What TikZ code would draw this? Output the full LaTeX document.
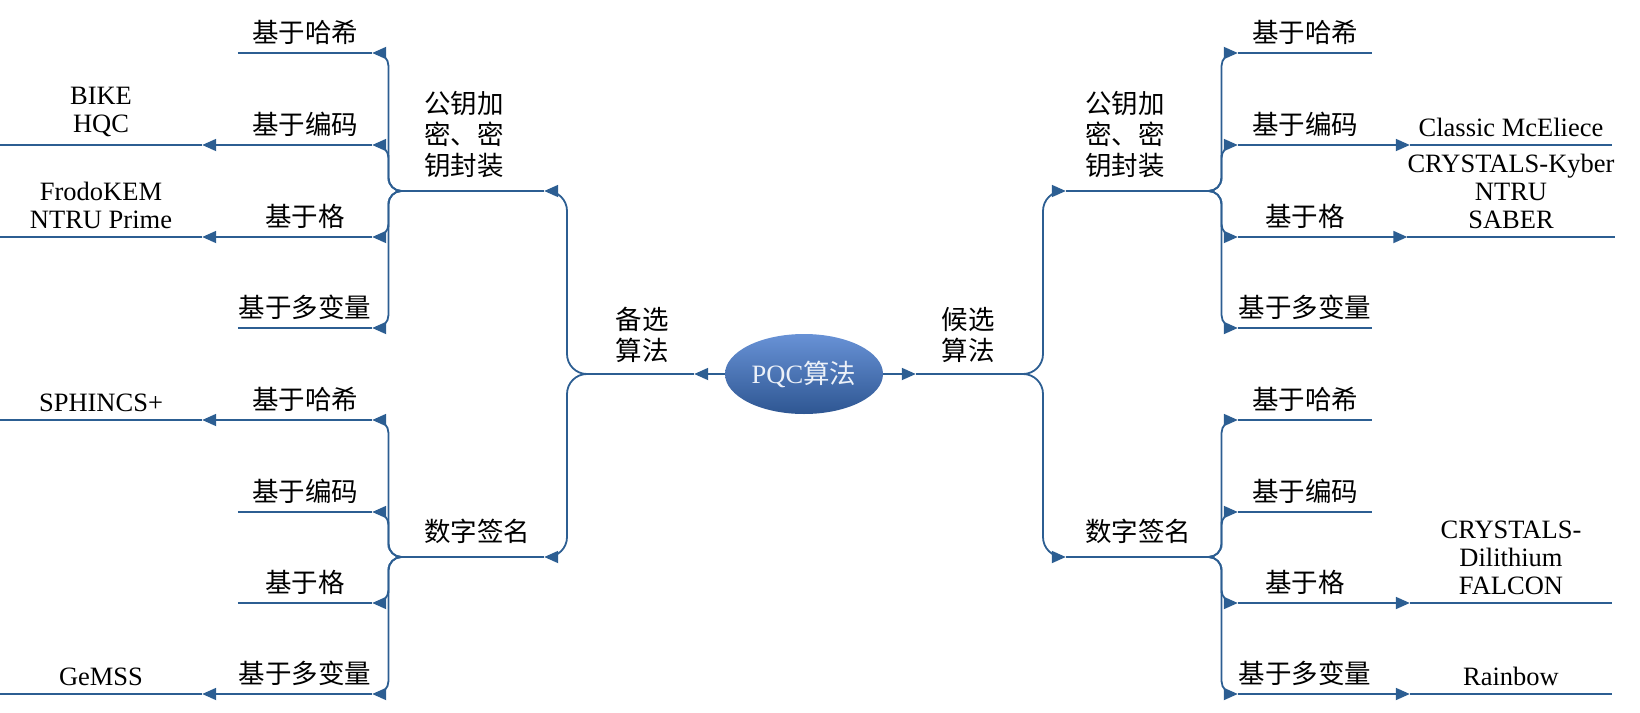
\documentclass[tikz,border=0pt]{standalone}
\usepackage{fontspec}
\setmainfont{Liberation Serif}
\newfontfamily\cjk{Noto Sans CJK SC}
\newcommand{\zh}[1]{{\cjk #1}}
\usepackage{tikz}
\usetikzlibrary{positioning, arrows.meta, calc, shapes.geometric}
\definecolor{branchblue}{RGB}{44,94,146}
\definecolor{ovaltop}{RGB}{104,146,214}
\definecolor{ovalbot}{RGB}{46,86,146}
\definecolor{ovaltext}{RGB}{236,241,248}

\begin{document}
\begin{tikzpicture}[x=1pt, y=-1pt,
        font=\fontsize{26.5}{28}\selectfont,
        every node/.style={align=center},
        oval/.style={ellipse, minimum width=158pt, minimum height=80pt, inner sep=0pt,
            top color=ovaltop, bottom color=ovalbot, text=ovaltext},
        side/.style={minimum width=104pt, inner xsep=0pt, inner ysep=11pt, anchor=south,
            font=\cjk\fontsize{26.5}{31}\selectfont},
        group/.style={text width=101pt, inner xsep=19pt, inner ysep=13pt, anchor=south, align=left,
            font=\cjk\fontsize{26.5}{31}\selectfont},
        kind/.style={minimum width=134pt, inner xsep=0pt, inner ysep=8pt, anchor=south,
            font=\cjk\fontsize{26.5}{31}\selectfont},
        algo/.style={minimum width=202pt, inner xsep=0pt, inner ysep=8.5pt, anchor=south},
        line/.style={draw=branchblue, line width=1.8pt},
        arrow/.style={line, -{Triangle[length=14pt, width=12pt]}},
        link/.style={arrow, rounded corners=#1}, link/.default=13pt,
        elbow/.style={to path={-| ($(\tikztostart)!.5!(\tikztotarget)$) |- (\tikztotarget)}}]

        \useasboundingbox (0,0) rectangle (1640,712);

        % 中心
        \node[oval] (pqc) at (804,374) {PQC\zh{算法}};

        % 备选 / 候选
        \node[side] (alt)  at (642,374) {备选\\算法};
        \node[side] (cand) at (968,374) {候选\\算法};

        % 公钥加密、密钥封装 / 数字签名
        \node[group] (alt-pke)  at (474.5,191)  {公钥加\\密、密\\钥封装};
        \node[group] (alt-sig)  at (474.5,557)  {数字签名};
        \node[group] (cand-pke) at (1135.5,191) {公钥加\\密、密\\钥封装};
        \node[group] (cand-sig) at (1135.5,557) {数字签名};

        % 左侧：基于……
        \node[kind] (alt-pke-hash)    at (305,53)  {基于哈希};
        \node[kind] (alt-pke-code)    at (305,145) {基于编码};
        \node[kind] (alt-pke-lattice) at (305,237) {基于格};
        \node[kind] (alt-pke-multi)   at (305,328) {基于多变量};
        \node[kind] (alt-sig-hash)    at (305,420) {基于哈希};
        \node[kind] (alt-sig-code)    at (305,512) {基于编码};
        \node[kind] (alt-sig-lattice) at (305,603) {基于格};
        \node[kind] (alt-sig-multi)   at (305,694) {基于多变量};

        % 右侧：基于……
        \node[kind] (cand-pke-hash)    at (1305,53)  {基于哈希};
        \node[kind] (cand-pke-code)    at (1305,145) {基于编码};
        \node[kind] (cand-pke-lattice) at (1305,237) {基于格};
        \node[kind] (cand-pke-multi)   at (1305,328) {基于多变量};
        \node[kind] (cand-sig-hash)    at (1305,420) {基于哈希};
        \node[kind] (cand-sig-code)    at (1305,512) {基于编码};
        \node[kind] (cand-sig-lattice) at (1305,603) {基于格};
        \node[kind] (cand-sig-multi)   at (1305,694) {基于多变量};

        % 具体算法
        \node[algo] (bike)      at (101,145)  {BIKE\\HQC};
        \node[algo] (frodo)     at (101,237)  {FrodoKEM\\NTRU Prime};
        \node[algo] (sphincs)   at (101,420)  {SPHINCS+};
        \node[algo] (gemss)     at (101,694)  {GeMSS};
        \node[algo] (mceliece)  at (1511,145) {Classic McEliece};
        \node[algo] (kyber)     at (1511,237) {CRYSTALS-Kyber\\NTRU\\SABER};
        \node[algo] (dilithium) at (1511,603) {CRYSTALS-\\Dilithium\\FALCON};
        \node[algo] (rainbow)   at (1511,694) {Rainbow};

        % 下划线
        \foreach \n in {alt, cand, alt-pke, alt-sig, cand-pke, cand-sig,
                alt-pke-hash, alt-pke-code, alt-pke-lattice, alt-pke-multi,
                alt-sig-hash, alt-sig-code, alt-sig-lattice, alt-sig-multi,
                cand-pke-hash, cand-pke-code, cand-pke-lattice, cand-pke-multi,
                cand-sig-hash, cand-sig-code, cand-sig-lattice, cand-sig-multi,
                bike, frodo, sphincs, gemss, mceliece, kyber, dilithium, rainbow}
            \draw[line] (\n.south west) -- (\n.south east);

        % 中心 -> 备选 / 候选
        \draw[arrow] (pqc.west) -- (alt.south east);
        \draw[arrow] (pqc.east) -- (cand.south west);

        % 备选 / 候选 -> 分类
        \draw[link=20pt] (alt.south west)  to[elbow] (alt-pke.south east);
        \draw[link=20pt] (alt.south west)  to[elbow] (alt-sig.south east);
        \draw[link=20pt] (cand.south east) to[elbow] (cand-pke.south west);
        \draw[link=20pt] (cand.south east) to[elbow] (cand-sig.south west);

        % 分类 -> 基于……
        \foreach \g in {alt-pke, alt-sig}
            \foreach \k in {hash, code, lattice, multi}
                \draw[link] (\g.south west) to[elbow] (\g-\k.south east);
        \foreach \g in {cand-pke, cand-sig}
            \foreach \k in {hash, code, lattice, multi}
                \draw[link] (\g.south east) to[elbow] (\g-\k.south west);

        % 基于…… -> 算法
        \draw[arrow] (alt-pke-code.south west)    -- (bike.south east);
        \draw[arrow] (alt-pke-lattice.south west) -- (frodo.south east);
        \draw[arrow] (alt-sig-hash.south west)    -- (sphincs.south east);
        \draw[arrow] (alt-sig-multi.south west)   -- (gemss.south east);
        \draw[arrow] (cand-pke-code.south east)    -- (mceliece.south west);
        \draw[arrow] (cand-pke-lattice.south east) -- (kyber.south west);
        \draw[arrow] (cand-sig-lattice.south east) -- (dilithium.south west);
        \draw[arrow] (cand-sig-multi.south east)   -- (rainbow.south west);
    \end{tikzpicture}
\end{document}
